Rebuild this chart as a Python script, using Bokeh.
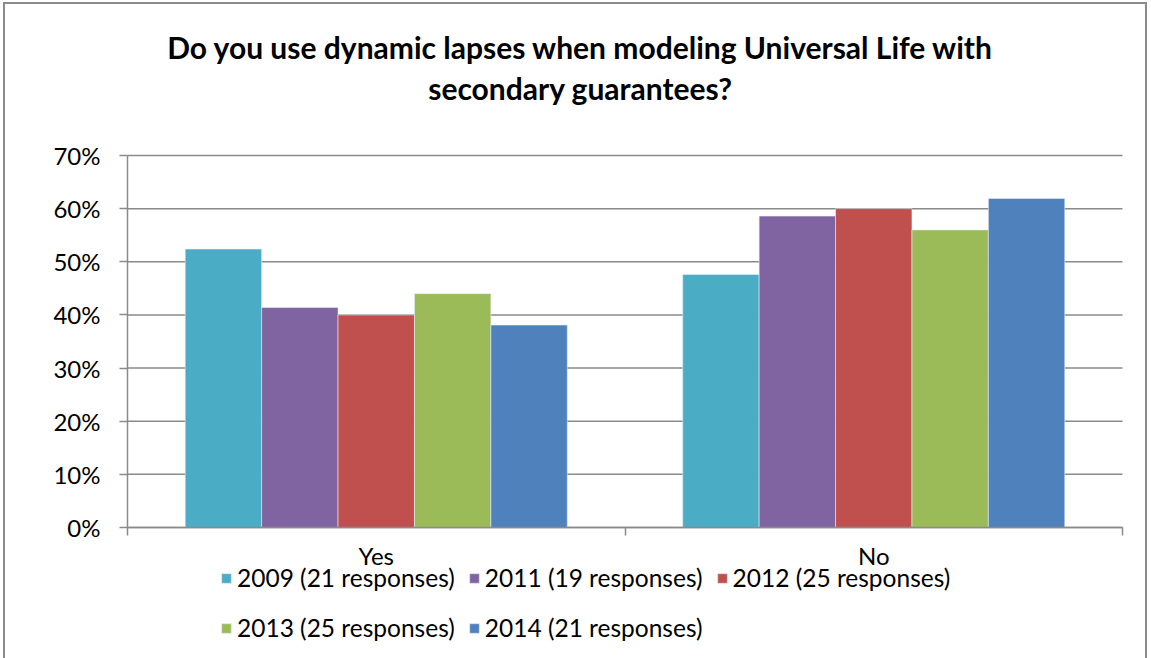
from bokeh.plotting import figure
from bokeh.models import (Range1d, FixedTicker, Legend, LegendItem, Label, LinearAxis,
                          ColumnDataSource, PrintfTickFormatter, InlineStyleSheet)
from bokeh.transform import dodge
from bokeh.embed import file_html
from bokeh.resources import INLINE

# ---------------- data ----------------
title_text = "Do you use dynamic lapses when modeling Universal Life with\nsecondary guarantees?"
categories = ["Yes", "No"]
cat_pos = [0.5, 1.5]
series_names = ["2009 (21 responses)", "2011 (19 responses)", "2012 (25 responses)",
                "2013 (25 responses)", "2014 (21 responses)"]
v2009 = [52.4, 47.6]
v2011 = [41.4, 58.6]
v2012 = [40.0, 60.0]
v2013 = [44.0, 56.0]
v2014 = [38.1, 61.9]
y_ticks = [0, 10, 20, 30, 40, 50, 60, 70]
colors = ["#4BACC6", "#8064A2", "#C0504D", "#9BBB59", "#4F81BD"]

series_values = [v2009, v2011, v2012, v2013, v2014]

FONT = "Lato"
GRID = "#8a8a8a"

# canvas geometry (pixels): plot area spans x 127..1122, y 155..527
W, H = 1151, 658
PL, PR, PT, PB = 127, 1122, 155, 527
ux = (PR - PL) / 2.0          # px per category unit
uy = (PB - PT) / 70.0         # px per percent
x_range = Range1d(-PL / ux, 2 + (W - PR) / ux)
y_range = Range1d(-(H - PB) / uy, 70 + PT / uy)

p = figure(width=W, height=H, x_range=x_range, y_range=y_range,
           output_backend="svg", toolbar_location=None,
           x_axis_location=None, y_axis_location=None)
p.min_border = 0
p.outline_line_color = None
p.background_fill_color = "white"
p.border_fill_color = "white"
p.grid.visible = False
p.stylesheets = [InlineStyleSheet(css="""
:host { position: relative; }
:host::after { content: ''; position: absolute; left: 3px; top: 2px; right: 4px; bottom: -20px;
  border: 2px solid #8c8c8c; pointer-events: none; z-index: 100; }
""")]

# horizontal gridlines at the y ticks, across the plot area
p.segment(x0=0, x1=2, y0=y_ticks, y1=y_ticks, line_color=GRID, line_width=1.5)

bar_w = 0.1536
renderers = []
for j, (name, vals, col) in enumerate(zip(series_names, series_values, colors)):
    src = ColumnDataSource(dict(x=cat_pos, top=vals, cat=categories))
    r = p.vbar(x=dodge("x", (j - 2) * bar_w, range=p.x_range), top="top", bottom=0,
               width=bar_w, source=src, fill_color=col, line_color="#e6ecf5", line_width=0.6)
    renderers.append(r)

# x axis: boundary ticks + category labels
xa = LinearAxis(fixed_location=0, bounds=(0, 2))
xa.ticker = FixedTicker(ticks=cat_pos, minor_ticks=[0, 1, 2])
xa.major_label_overrides = {0.5: categories[0], 1.5: categories[1]}
xa.major_tick_out = 0
xa.major_tick_in = 0
xa.minor_tick_out = 8
xa.minor_tick_in = 0
xa.minor_tick_line_color = GRID
xa.minor_tick_line_width = 1.5
xa.axis_line_color = GRID
xa.axis_line_width = 1.5
xa.major_label_standoff = 5
xa.major_label_text_font = FONT
xa.major_label_text_font_size = "24px"
xa.major_label_text_color = "black"
p.add_layout(xa, "below")

ya = LinearAxis(fixed_location=0, bounds=(0, 70))
ya.ticker = FixedTicker(ticks=y_ticks)
ya.formatter = PrintfTickFormatter(format="%d%%")
ya.major_tick_out = 8
ya.major_tick_in = 0
ya.minor_tick_out = 0
ya.minor_tick_in = 0
ya.major_tick_line_color = GRID
ya.major_tick_line_width = 1.5
ya.axis_line_color = GRID
ya.axis_line_width = 1.5
ya.major_label_standoff = 19
ya.major_label_text_font = FONT
ya.major_label_text_font_size = "24px"
ya.major_label_text_color = "black"
p.add_layout(ya, "left")

def make_legend(items, loc):
    return Legend(items=items, location=loc, orientation="horizontal",
                  label_text_font=FONT, label_text_font_size="24.5px",
                  label_text_color="black",
                  glyph_width=12, glyph_height=12, label_standoff=5, spacing=13,
                  padding=0, margin=0, label_height=24,
                  border_line_color=None, background_fill_alpha=0)

items = [LegendItem(label=n, renderers=[r]) for n, r in zip(series_names, renderers)]
p.add_layout(make_legend(items[:3], (220, 66)))
p.add_layout(make_legend(items[3:], (220, 16)))

p.add_layout(Label(x=580, y=H - 67, x_units="screen", y_units="screen", text=title_text,
                   text_align="center", text_baseline="middle", text_font=FONT,
                   text_font_style="bold", text_font_size="30px", text_line_height=1.13,
                   text_color="black"))

open("out.html", "w").write(file_html(p, INLINE))
